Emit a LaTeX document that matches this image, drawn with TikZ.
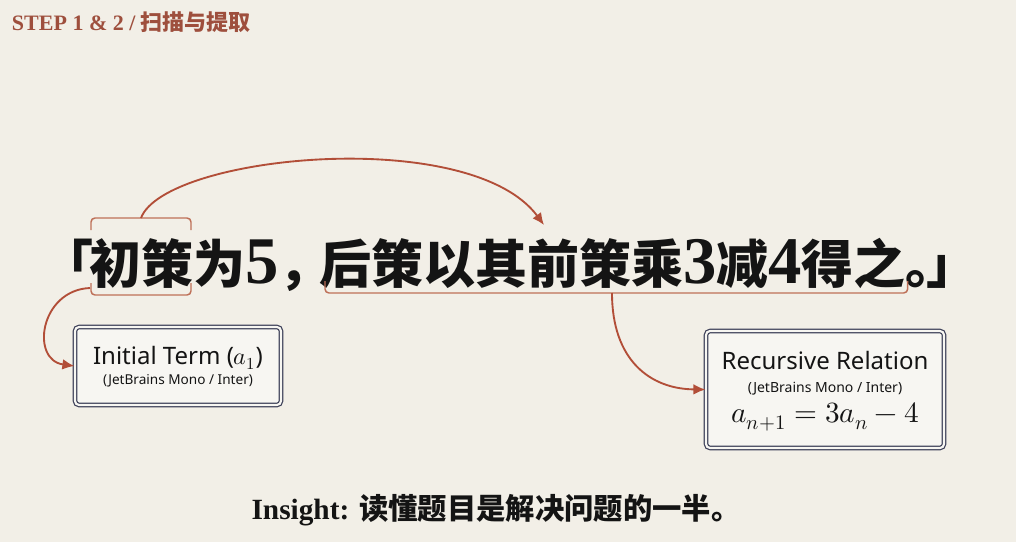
\documentclass[tikz,border=0pt]{standalone}
\usepackage{fontspec}
\usepackage{unicode-math}
\setmainfont{Liberation Serif}
\newfontfamily\cjk{Noto Sans CJK SC}
\newfontfamily\sans{Noto Sans}
\usetikzlibrary{arrows.meta,calc}
\definecolor{paper}{HTML}{F2EFE7}
\definecolor{rust}{HTML}{B24E38}
\definecolor{bracketc}{HTML}{BE7058}
\definecolor{hdr}{HTML}{9E4F3D}
\definecolor{navy}{HTML}{3B3E57}
\definecolor{boxfill}{HTML}{F7F6F2}
\definecolor{ink}{HTML}{141414}
\newcommand\dgt[1]{{\rmfamily\bfseries\fontsize{50}{54}\selectfont #1}}
\begin{document}
\begin{tikzpicture}[x=0.75pt,y=-0.75pt,
  txt/.style={inner sep=0pt, outer sep=0pt, text=ink},
  mainfont/.style={font=\cjk\bfseries\fontsize{39}{44}\selectfont},
  brk/.style={draw=bracketc, line width=1.1pt, rounded corners=3pt},
  conn/.style={draw=rust, line width=1.4pt, -{Latex[length=9pt,width=8pt]}},
  boxst/.style={draw=navy, double=boxfill, double distance=1.6pt, line width=0.9pt, rounded corners=3pt, fill=boxfill, inner sep=0pt}]
\useasboundingbox (0,0) rectangle (1016,542);
\fill[paper] (0,0) rectangle (1016,542);

% header
\node[txt, anchor=base west, text=hdr, font=\bfseries\fontsize{16.5}{18}\selectfont] (hd) at (12,31) {STEP 1 \& 2 / {\cjk 扫描与提取}};

% main sentence
\node[txt,mainfont,anchor=base west] (q1) at (41,283) {「};
\node[txt,mainfont,anchor=base west] (c1) at (89,283) {初策};
\node[txt,mainfont,anchor=base west] (c2) at (c1.base east) {为\dgt{5}，};
\node[txt,mainfont,anchor=base west] (r) at (319,283) {后策以其前策乘\dgt{3}减\dgt{4}得之};
\node[txt,mainfont,anchor=base west] (e1) at (r.base east) {。};
\node[txt,mainfont,anchor=base west] (e2) at (926,283) {」};

% brackets
\path (c1.base west) ++(2,0) coordinate (c1L);
\path (c1.base east) ++(-2,0) coordinate (c1R);
\draw[brk] ($(c1L)+(0,-53)$) -- ($(c1L)+(0,-65)$) -- ($(c1R)+(0,-65)$) -- ($(c1R)+(0,-53)$);
\draw[brk] ($(c1L)+(0,0)$) -- ($(c1L)+(0,12)$) -- ($(c1R)+(0,12)$) -- ($(c1R)+(0,0)$);
\path (r.base west) ++(6,0) coordinate (rL);
\path (r.base east) ++(2,0) coordinate (rR);
\draw[brk] ($(rL)+(0,-2)$) -- ($(rL)+(0,10)$) -- ($(rR)+(0,10)$) -- ($(rR)+(0,-2)$);

\coordinate (topmid) at ($(c1L)!0.5!(c1R)+(0,-65)$);
\coordinate (tgt1) at ($(r.base west)+(225,-58)$);
\coordinate (botL) at ($(c1L)+(-1,5)$);
\coordinate (rbot) at ($(r.base west)+(293,10)$);

% boxes
\node[boxst, minimum width=154.5pt, minimum height=58.5pt] (b1) at (178,366) {};
\node[txt, font=\sans\fontsize{18}{20}\selectfont, anchor=base] (b1t) at (178,364) {Initial Term ($a_1$)};
\node[txt, font=\sans\fontsize{10.2}{12}\selectfont, anchor=base] (b1s) at (178,384) {(JetBrains Mono / Inter)};

\node[boxst, minimum width=178.5pt, minimum height=87.75pt] (b2) at (825,389.5) {};
\node[txt, font=\sans\fontsize{18}{20}\selectfont, anchor=base] (b2t) at (825,369) {Recursive Relation};
\node[txt, font=\sans\fontsize{10.5}{12}\selectfont, anchor=base] (b2s) at (825,392) {(JetBrains Mono / Inter)};
\node[txt, font=\fontsize{22}{24}\selectfont, anchor=base] (b2f) at (825,422) {$a_{n+1}=3a_n-4$};

% connectors
\draw[conn] (topmid) .. controls (165,155) and (470,125) .. (tgt1);
\draw[conn] (botL) .. controls (40,290) and (30,360) .. (b1.west);
\draw[conn] (rbot) .. controls (612,360) and (650,389) .. (b2.west);

% insight
\node[txt, anchor=base, font=\bfseries\fontsize{22}{26}\selectfont] (ins) at (496,519) {Insight: {\cjk 读懂题目是解决问题的一半。}};
\end{tikzpicture}
\end{document}
